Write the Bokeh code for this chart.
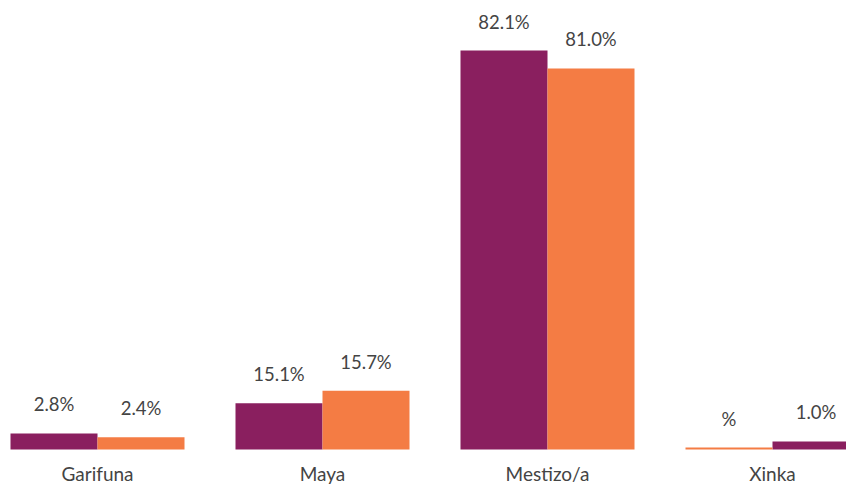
from bokeh.plotting import figure
from bokeh.models import ColumnDataSource, Range1d
from bokeh.core.properties import value
from bokeh.embed import file_html
from bokeh.resources import INLINE

categories = ["Garifuna", "Maya", "Mestizo/a", "Xinka"]
# bar heights (percentage units)
series_a_values = [3.3, 9.5, 82.1, 1.65]
series_b_values = [2.5, 12.1, 78.4, 0.4]
series_a_labels = ["2.8%", "15.1%", "82.1%", "1.0%"]
series_b_labels = ["2.4%", "15.7%", "81.0%", "%"]
# in the last group the order of the two bars is swapped
series_a_first = [True, True, True, False]

PURPLE = "#8A1F5F"
ORANGE = "#F47C44"
TEXT = "#444444"
FONT = "Lato"

W, H = 846, 485
BASE = 449                      # pixel row of the bars' baseline
px_per_unit = 399 / 82.1
bar_w = 87 / 225
xs = list(range(len(categories)))
xa = [x - bar_w / 2 if f else x + bar_w / 2 for x, f in zip(xs, series_a_first)]
xb = [x + bar_w / 2 if f else x - bar_w / 2 for x, f in zip(xs, series_a_first)]

src_a = ColumnDataSource(dict(x=xa, top=series_a_values, label=series_a_labels))
src_b = ColumnDataSource(dict(x=xb, top=series_b_values, label=series_b_labels))
src_c = ColumnDataSource(dict(x=xs, y=[0] * len(xs), label=categories))

p = figure(width=W, height=H, output_backend="svg", toolbar_location=None,
           x_range=Range1d(-97 / 225, (W - 97) / 225),
           y_range=Range1d(-(H - BASE) / px_per_unit, BASE / px_per_unit),
           min_border_left=0, min_border_right=0, min_border_top=0, min_border_bottom=0)
p.outline_line_color = None
p.xgrid.visible = False
p.ygrid.visible = False
p.xaxis.visible = False
p.yaxis.visible = False
p.background_fill_color = "white"
p.border_fill_color = "white"

p.vbar(x="x", top="top", bottom=0, width=bar_w, source=src_a, fill_color=PURPLE, line_color=None)
p.vbar(x="x", top="top", bottom=0, width=bar_w, source=src_b, fill_color=ORANGE, line_color=None)

for src in (src_a, src_b):
    p.text(x="x", y="top", text="label", source=src, y_offset=-29,
           text_align="center", text_baseline="alphabetic",
           text_font=value(FONT), text_font_size="18.5px", text_color=TEXT)

# category labels under the baseline
p.text(x="x", y="y", text="label", source=src_c, y_offset=24,
       text_align="center", text_baseline="middle",
       text_font=value(FONT), text_font_size="19px", text_color=TEXT)

open("out.html", "w").write(file_html(p, INLINE))
